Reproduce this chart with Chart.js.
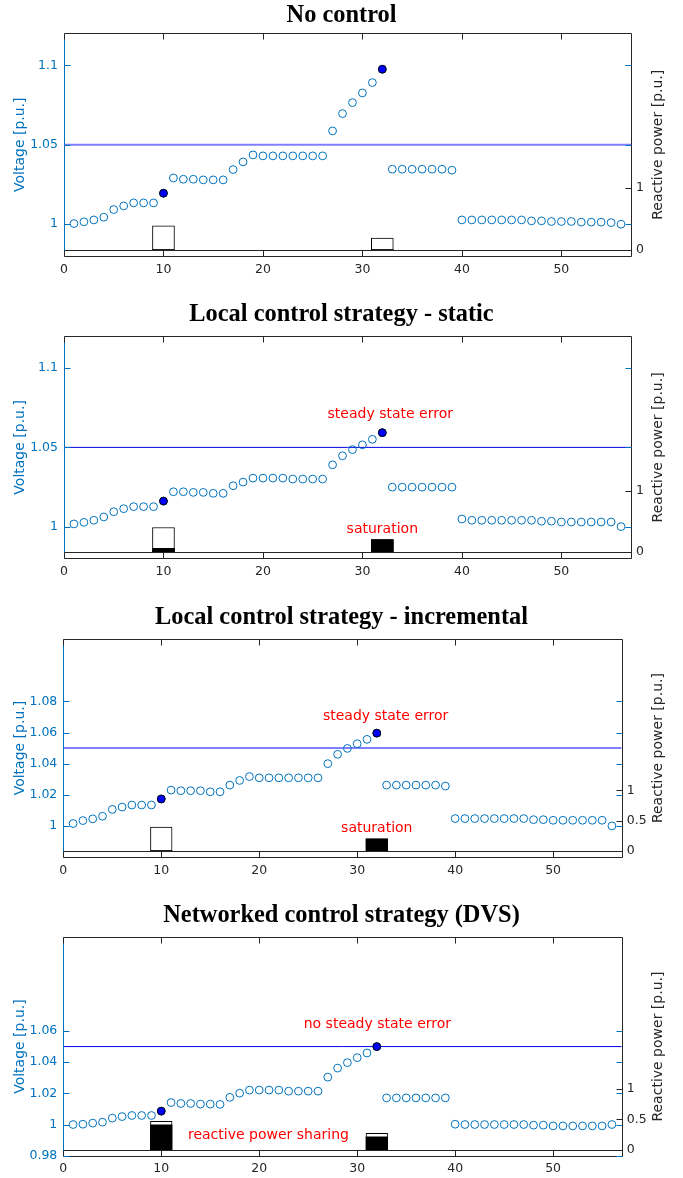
<!DOCTYPE html>
<html>
<head>
<meta charset="utf-8">
<script src="https://cdn.jsdelivr.net/npm/chart.js@4.4.1/dist/chart.umd.min.js"></script>
<style>
  html, body { margin: 0; padding: 0; background: #ffffff; }
  body { position: relative; width: 683px; height: 1178px; overflow: hidden; }
  canvas { position: absolute; left: 0; }
</style>
</head>
<body>
<canvas id="c1" width="683" height="290" style="top:0px"></canvas>
<canvas id="c2" width="683" height="300" style="top:295px"></canvas>
<canvas id="c3" width="683" height="297" style="top:598px"></canvas>
<canvas id="c4" width="683" height="283" style="top:895px"></canvas>
<script>
// ---------------- DATA ----------------
const buses = [1,2,3,4,5,6,7,8,9,10,11,12,13,14,15,16,17,18,19,20,21,22,23,24,25,26,27,28,
               29,30,31,32,33,34,35,36,37,38,39,40,41,42,43,44,45,46,47,48,49,50,51,52,53,54,55,56];

const titles = [
  'No control',
  'Local control strategy - static',
  'Local control strategy - incremental',
  'Networked control strategy (DVS)'
];

const vNoControl = [1.0004,1.0015,1.0027,1.0044,1.0092,1.0115,1.0134,1.0134,1.0134,1.0195,
  1.0291,1.0283,1.0283,1.0279,1.0279,1.0279,1.0344,1.0392,1.0436,1.0430,
  1.0430,1.0430,1.0430,1.0430,1.0430,1.0430,1.0587,1.0696,1.0765,1.0826,
  1.0891,1.0975,1.0346,1.0346,1.0346,1.0346,1.0346,1.0346,1.0340,1.0027,
  1.0027,1.0027,1.0027,1.0027,1.0027,1.0027,1.0021,1.0021,1.0017,1.0017,
  1.0017,1.0013,1.0013,1.0013,1.0010,1.0000];

const vStatic = [1.0017,1.0027,1.0040,1.0061,1.0094,1.0113,1.0126,1.0126,1.0126,1.0161,
  1.0220,1.0220,1.0216,1.0216,1.0210,1.0210,1.0258,1.0281,1.0306,1.0306,
  1.0306,1.0306,1.0300,1.0300,1.0300,1.0300,1.0390,1.0447,1.0486,1.0516,
  1.0551,1.0593,1.0249,1.0249,1.0249,1.0249,1.0249,1.0249,1.0249,1.0048,
  1.0040,1.0040,1.0040,1.0040,1.0040,1.0040,1.0040,1.0034,1.0034,1.0029,
  1.0029,1.0029,1.0029,1.0029,1.0029,1.0000];

const vIncremental = [1.0015,1.0034,1.0045,1.0062,1.0106,1.0121,1.0134,1.0134,1.0134,1.0173,
  1.0230,1.0226,1.0226,1.0226,1.0219,1.0219,1.0262,1.0292,1.0317,1.0309,
  1.0309,1.0309,1.0309,1.0309,1.0309,1.0309,1.0400,1.0460,1.0498,1.0528,
  1.0556,1.0596,1.0262,1.0262,1.0262,1.0262,1.0262,1.0262,1.0256,1.0047,
  1.0047,1.0047,1.0047,1.0047,1.0047,1.0047,1.0047,1.0040,1.0040,1.0036,
  1.0036,1.0036,1.0036,1.0036,1.0036,1.0000];

const vNetworked = [1.0000,1.0002,1.0009,1.0015,1.0041,1.0051,1.0058,1.0058,1.0058,1.0086,
  1.0141,1.0135,1.0135,1.0131,1.0131,1.0129,1.0174,1.0201,1.0221,1.0221,
  1.0221,1.0221,1.0214,1.0214,1.0214,1.0214,1.0304,1.0362,1.0397,1.0429,
  1.0459,1.0500,1.0171,1.0171,1.0171,1.0171,1.0171,1.0171,1.0171,1.0002,
  1.0000,1.0000,1.0000,1.0000,1.0000,1.0000,1.0000,0.9996,0.9996,0.9991,
  0.9991,0.9991,0.9991,0.9991,0.9991,1.0000];

// inverter buses (filled markers) and reactive power (capacity box / used bar)
const inverterBuses = [10, 32];
const qCapNoControl   = [0.39, 0.19];
const qUsedNoControl  = [0.00, 0.00];
const qCapStatic      = [0.40, 0.205];
const qUsedStatic     = [0.06, 0.205];
const qCapIncremental = [0.395, 0.20];
const qUsedIncremental= [0.00, 0.20];
const qCapNetworked   = [0.467, 0.27];
const qUsedNetworked  = [0.41, 0.21];

const vLimit = 1.05;

// axis ranges and ticks
const xMin = 0, xMax = 57;
const xTicks = [0, 10, 20, 30, 40, 50];
const vMin = 0.98, vMax = 1.12;
const qMin = -0.1, qMax = 3.5;
const vTicksCoarse = [1, 1.05, 1.1];
const vTicksFine3 = [1, 1.02, 1.04, 1.06, 1.08];
const vTicksFine4 = [0.98, 1, 1.02, 1.04, 1.06];
const qTicksCoarse = [0, 1];
const qTicksFine = [0, 0.5, 1];

const leftAxisLabel = 'Voltage [p.u.]';
const rightAxisLabel = 'Reactive power [p.u.]';

// ---------------- DRAWING ----------------
Chart.defaults.font.family = "'DejaVu Sans', sans-serif";
Chart.defaults.color = '#262626';

const AXIS_DARK = '#262626';
const AXIS_BLUE = '#0072BD';

function crisp(v) { return Math.round(v) + 0.5; }

const framePlugin = {
  id: 'frame',
  afterDatasetsDraw(chart) {
    const ctx = chart.ctx;
    const {left, right, top, bottom} = chart.chartArea;
    const sx = chart.scales.x, sy = chart.scales.y, sq = chart.scales.y2;
    const L = crisp(left), R = crisp(right), T = crisp(top), B = crisp(bottom);
    const seg = (x1, y1, x2, y2, c) => {
      ctx.strokeStyle = c; ctx.beginPath(); ctx.moveTo(x1, y1); ctx.lineTo(x2, y2); ctx.stroke();
    };
    ctx.save();
    ctx.lineWidth = 1;
    // reactive power zero baseline
    const q0 = crisp(sq.getPixelForValue(0));
    seg(L, q0, R, q0, AXIS_DARK);
    // box
    seg(L, T, R, T, AXIS_DARK);
    seg(L, B, R, B, AXIS_DARK);
    seg(R, T, R, B, AXIS_DARK);
    seg(L, T, L, B, AXIS_BLUE);
    // x ticks (inward, bottom and top)
    sx.ticks.forEach(t => {
      const px = crisp(sx.getPixelForValue(t.value));
      seg(px, B, px, B - 6, AXIS_DARK);
      seg(px, T, px, T + 6, AXIS_DARK);
    });
    // voltage ticks (blue) on both sides
    sy.ticks.forEach(t => {
      const py = crisp(sy.getPixelForValue(t.value));
      seg(L, py, L + 6, py, AXIS_BLUE);
      seg(R, py, R - 6, py, AXIS_BLUE);
    });
    // reactive power ticks (dark) on right
    sq.ticks.forEach(t => {
      const py = crisp(sq.getPixelForValue(t.value));
      seg(R, py, R - 6, py, AXIS_DARK);
    });
    ctx.restore();
  }
};

// right axis title, reading bottom-to-top as in the reference
const rightTitlePlugin = {
  id: 'rightTitle',
  afterDraw(chart) {
    const ctx = chart.ctx;
    const sq = chart.scales.y2;
    ctx.save();
    ctx.translate(sq.right - 24.7, (sq.top + sq.bottom) / 2);
    ctx.rotate(-Math.PI / 2);
    ctx.font = "14px 'DejaVu Sans', sans-serif";
    ctx.fillStyle = AXIS_DARK;
    ctx.textAlign = 'center';
    ctx.textBaseline = 'middle';
    ctx.fillText(rightAxisLabel, 0, 0);
    ctx.restore();
  }
};

function notesPlugin(notes) {
  return {
    id: 'notes',
    afterDraw(chart) {
      const ctx = chart.ctx;
      ctx.save();
      ctx.font = "14px 'DejaVu Sans', sans-serif";
      ctx.fillStyle = '#ff0000';
      ctx.textAlign = 'center';
      ctx.textBaseline = 'middle';
      notes.forEach(n => {
        ctx.fillText(n.text, chart.scales.x.getPixelForValue(n.x), chart.scales.y.getPixelForValue(n.y));
      });
      ctx.restore();
    }
  };
}

const panels = [
  { id: 'c1', title: titles[0], v: vNoControl, qCap: qCapNoControl, qUsed: qUsedNoControl,
    vTicks: vTicksCoarse, qTicks: qTicksCoarse, soft: true,
    tPad: {top: 0.8, bottom: 3.4}, xH: 34, leftW: 64, rightW: 52, barW: 22, notes: [] },
  { id: 'c2', title: titles[1], v: vStatic, qCap: qCapStatic, qUsed: qUsedStatic,
    vTicks: vTicksCoarse, qTicks: qTicksCoarse, soft: false,
    tPad: {top: 4.8, bottom: 7.4}, xH: 36.7, leftW: 64, rightW: 52, barW: 22,
    notes: [{text: 'steady state error', x: 32.8, y: 1.0709}, {text: 'saturation', x: 32, y: 0.9984}] },
  { id: 'c3', title: titles[2], v: vIncremental, qCap: qCapIncremental, qUsed: qUsedIncremental,
    vTicks: vTicksFine3, qTicks: qTicksFine, soft: true,
    tPad: {top: 4.8, bottom: 7.1}, xH: 38, leftW: 63.3, rightW: 61.3, barW: 21.6,
    notes: [{text: 'steady state error', x: 32.9, y: 1.0707}, {text: 'saturation', x: 32, y: 0.9987}] },
  { id: 'c4', title: titles[3], v: vNetworked, qCap: qCapNetworked, qUsed: qUsedNetworked,
    vTicks: vTicksFine4, qTicks: qTicksFine, soft: false,
    tPad: {top: 5.8, bottom: 7.4}, xH: 22.3, leftW: 63.3, rightW: 61.3, barW: 21.6,
    notes: [{text: 'no steady state error', x: 32.06, y: 1.0645}, {text: 'reactive power sharing', x: 20.94, y: 0.9931}] }
];

function makeChart(p) {
  const openPts = buses.map((b, i) => ({x: b, y: p.v[i]}));
  const filledPts = inverterBuses.map(b => ({x: b, y: p.v[buses.indexOf(b)]}));
  const limitPts = [{x: xMin, y: vLimit}, {x: xMax, y: vLimit}];
  const capBars = inverterBuses.map((b, i) => ({x: b, y: p.qCap[i]}));
  const usedBars = inverterBuses.map((b, i) => ({x: b, y: p.qUsed[i]}));

  new Chart(document.getElementById(p.id), {
    type: 'scatter',
    data: {
      datasets: [
        { type: 'bar', data: capBars, yAxisID: 'y2', backgroundColor: '#ffffff', borderColor: '#000000',
          borderWidth: 1, borderSkipped: false, barThickness: p.barW, grouped: false, order: 5 },
        { type: 'bar', data: usedBars, yAxisID: 'y2', backgroundColor: '#000000', borderWidth: 0,
          barThickness: p.barW, grouped: false, order: 4 },
        { type: 'line', data: limitPts, yAxisID: 'y',
          borderColor: p.soft ? 'rgba(0,0,255,0.5)' : '#0000e6', borderWidth: p.soft ? 2 : 1,
          pointRadius: 0, fill: false, order: 3 },
        { type: 'scatter', data: openPts, yAxisID: 'y', pointStyle: 'circle', pointRadius: 3.9,
          borderColor: '#0072BD', backgroundColor: 'rgba(0,0,0,0)', borderWidth: 1, order: 2 },
        { type: 'scatter', data: filledPts, yAxisID: 'y', pointStyle: 'circle', pointRadius: 3.9,
          borderColor: '#000000', backgroundColor: '#0000ff', borderWidth: 1, order: 1 }
      ]
    },
    options: {
      responsive: false,
      animation: false,
      devicePixelRatio: 1,
      layout: { padding: 0 },
      plugins: {
        legend: { display: false },
        tooltip: { enabled: false },
        title: {
          display: true, text: p.title, color: '#000000',
          font: { family: "'Liberation Serif', 'Times New Roman', serif", size: 24.4, weight: 'bold' },
          padding: p.tPad
        }
      },
      scales: {
        x: {
          type: 'linear', min: xMin, max: xMax, offset: false,
          grid: { display: false, drawTicks: false }, border: { display: false },
          afterBuildTicks: s => { s.ticks = xTicks.map(v => ({value: v})); },
          ticks: { padding: 6, color: AXIS_DARK, font: { size: 12.5 }, autoSkip: false, maxRotation: 0,
                   callback: v => String(v) },
          afterFit: s => { s.height = p.xH; }
        },
        y: {
          type: 'linear', position: 'left', min: vMin, max: vMax,
          grid: { display: false, drawTicks: false }, border: { display: false },
          afterBuildTicks: s => { s.ticks = p.vTicks.map(v => ({value: v})); },
          ticks: { padding: 6, color: AXIS_BLUE, font: { size: 12.5 }, callback: v => String(v) },
          title: { display: true, text: leftAxisLabel, color: AXIS_BLUE, font: { size: 14 },
                   padding: { top: 11.6, bottom: 0 } },
          afterFit: s => { s.width = p.leftW; }
        },
        y2: {
          type: 'linear', position: 'right', min: qMin, max: qMax,
          grid: { display: false, drawTicks: false }, border: { display: false },
          afterBuildTicks: s => { s.ticks = p.qTicks.map(v => ({value: v})); },
          ticks: { padding: 5, color: AXIS_DARK, font: { size: 12.5 }, callback: v => String(v) },
          title: { display: false },
          afterFit: s => { s.width = p.rightW; }
        }
      }
    },
    plugins: [framePlugin, rightTitlePlugin, notesPlugin(p.notes)]
  });
}

panels.forEach(makeChart);
</script>
</body>
</html>
